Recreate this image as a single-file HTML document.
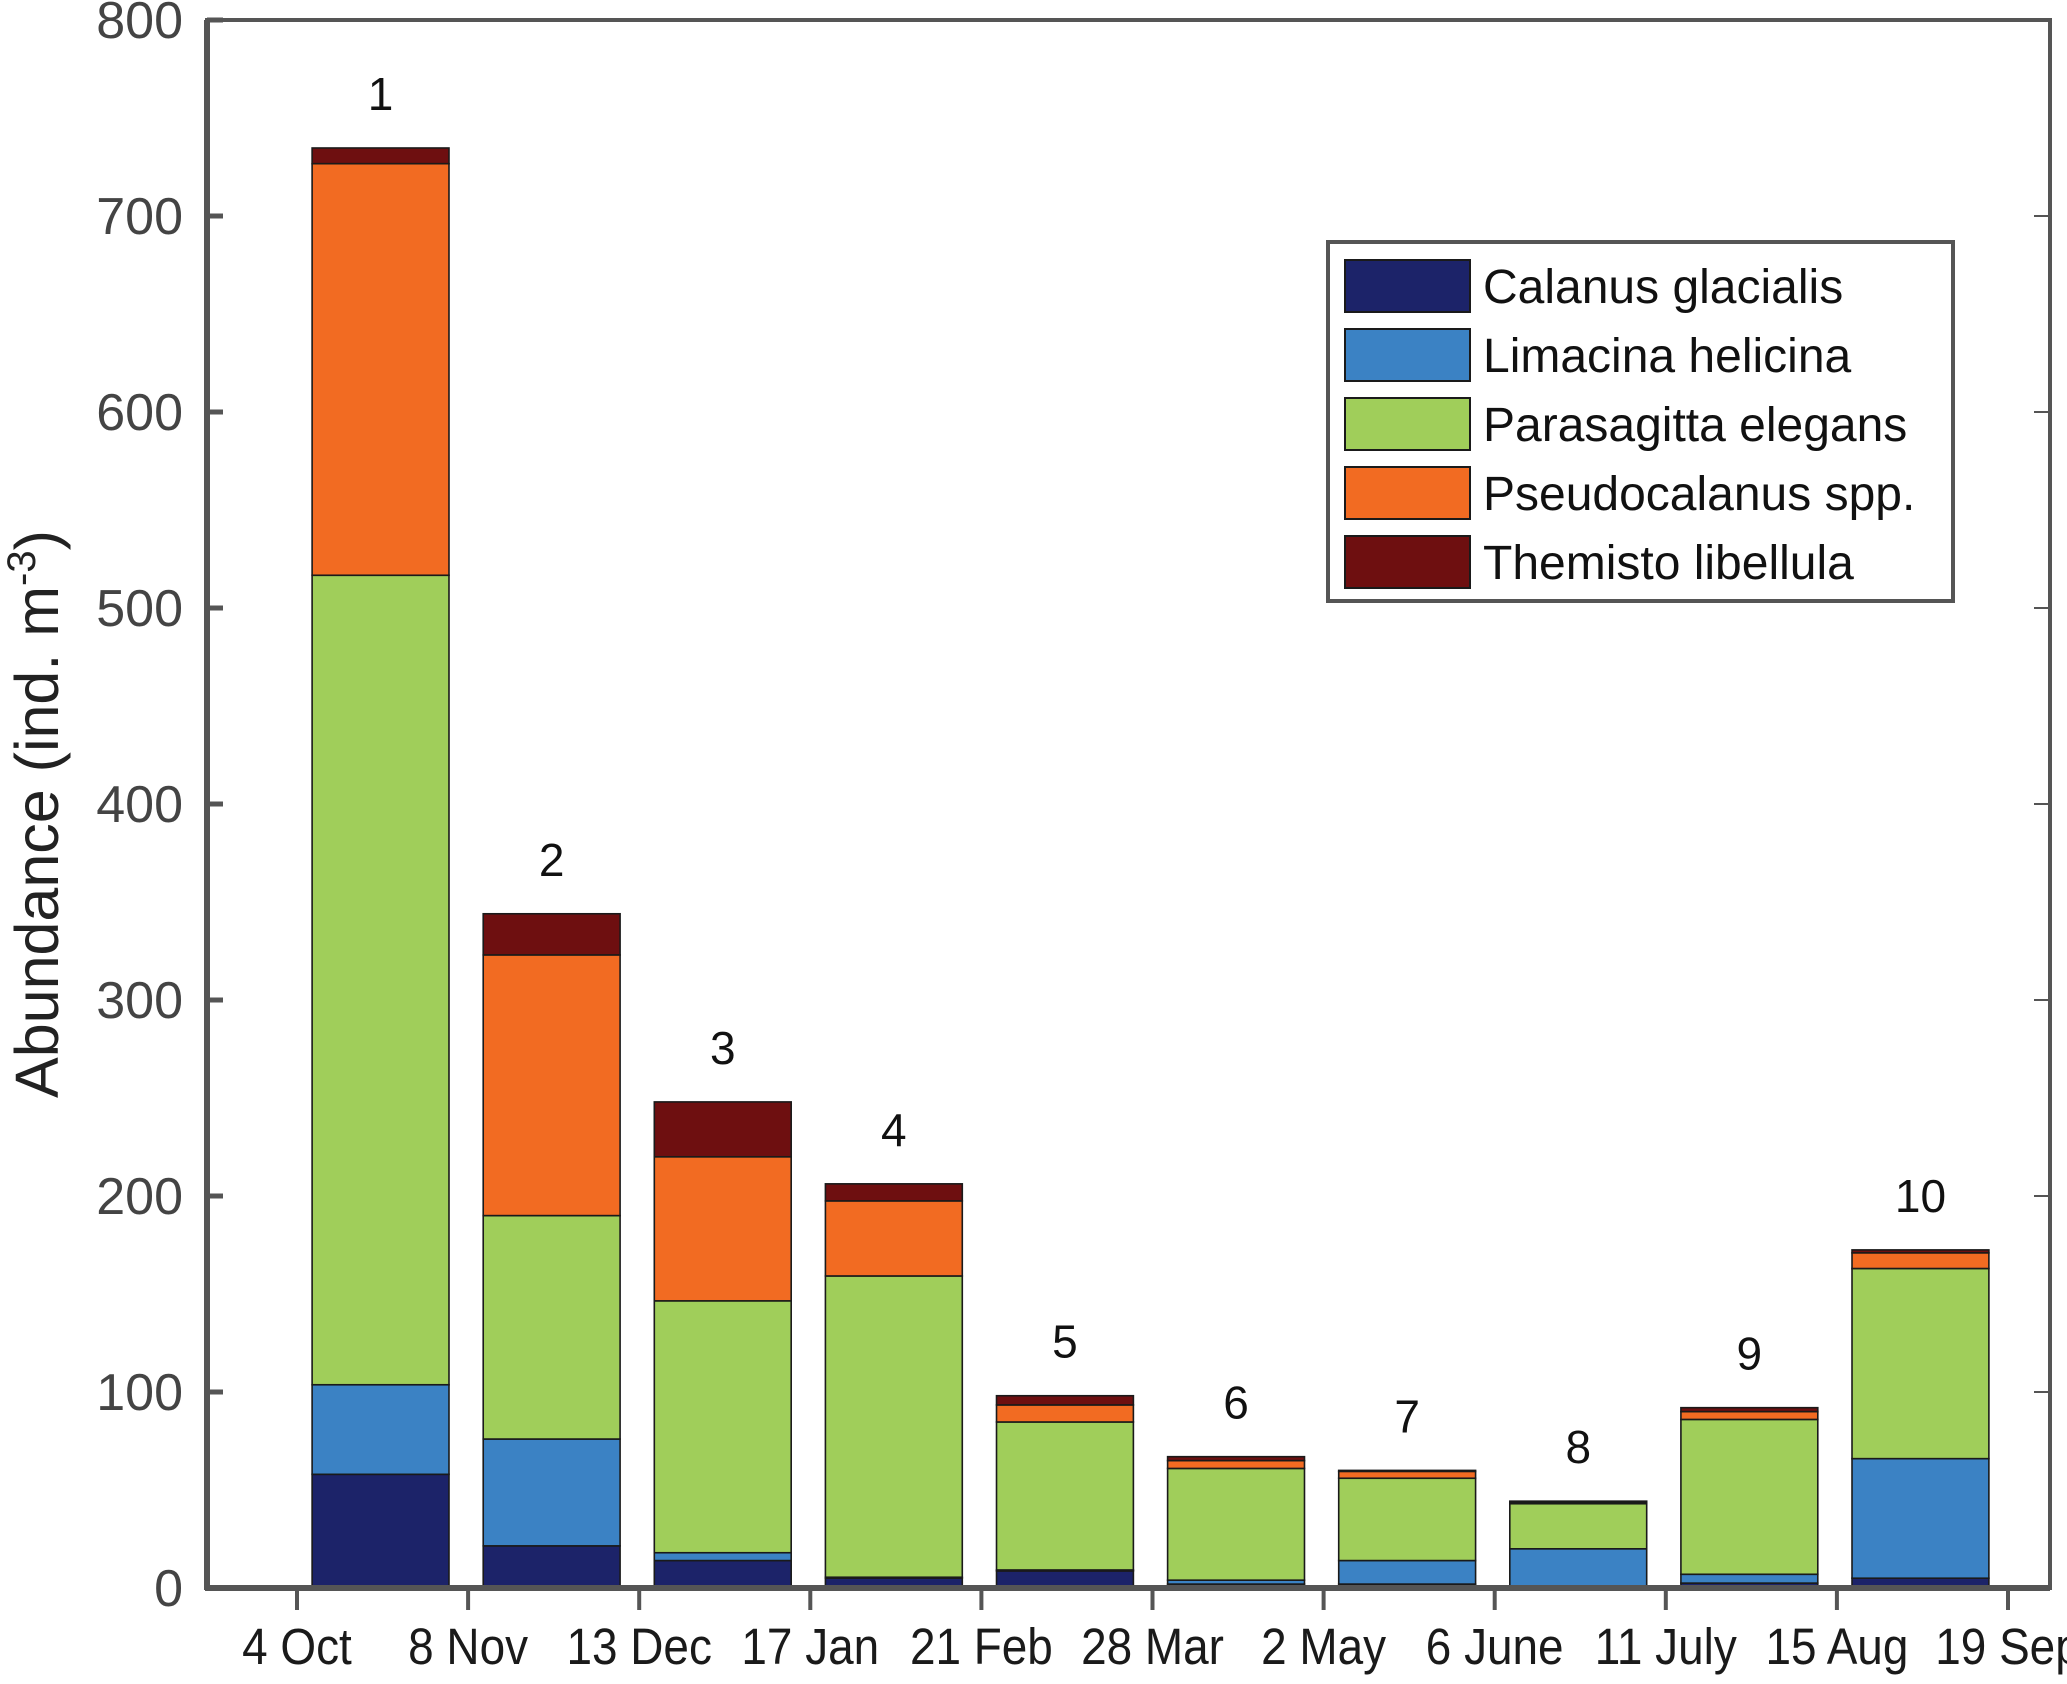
<!DOCTYPE html>
<html><head><meta charset="utf-8"><style>
html,body{margin:0;padding:0;background:#fff}
svg{display:block}
text{font-family:"Liberation Sans",sans-serif}
</style></head><body>
<svg id="chart" width="2067" height="1684" viewBox="0 0 2067 1684" xmlns="http://www.w3.org/2000/svg">
<g id="plot"></g>
</svg>
<script>
const categories = ["1","2","3","4","5","6","7","8","9","10"];
const xTickLabels = ["4 Oct","8 Nov","13 Dec","17 Jan","21 Feb","28 Mar","2 May","6 June","11 July","15 Aug","19 Sep"];
const yTicks = [0,100,200,300,400,500,600,700,800];
const seriesNames = ["Calanus glacialis","Limacina helicina","Parasagitta elegans","Pseudocalanus spp.","Themisto libellula"];
const calanus = [58,21.5,14,5,8.7,2,2,0.5,2.5,5];
const limacina = [45.7,54.5,4,0.5,0.5,2,12,19.5,4.5,61];
const parasagitta = [413,114,128.5,153.7,75.5,57,42,23,79,97];
const pseudocalanus = [210,133,73.5,38.3,8.7,4,3.5,0.5,4,8];
const themisto = [8,21,28,8.7,4.7,2,0.5,0.8,2,1.5];
const colors = ["#1c2369","#3b82c4","#a0ce5a","#f26b22","#6e0f10"];
const series = [calanus,limacina,parasagitta,pseudocalanus,themisto];

const NS="http://www.w3.org/2000/svg";
const L=207,R=2050,T=20,B=1588;
const yMax=800;
const y=v=>B-(v/yMax)*(B-T);
const tick0=297,tickStep=171.1;
const xTick=i=>tick0+i*tickStep;
const xCenter=i=>tick0+(i+0.5)*tickStep;
const barW=tickStep*0.8;
const g=document.getElementById('plot');
function mk(tag,attrs,parent){const e=document.createElementNS(NS,tag);for(const k in attrs)e.setAttribute(k,attrs[k]);(parent||g).appendChild(e);return e;}

categories.forEach((c,i)=>{
  let base=0;
  series.forEach((s,k)=>{
    const v=s[i];
    const r=mk('rect',{x:xCenter(i)-barW/2-2,y:y(base+v),width:barW,height:y(base)-y(base+v),fill:colors[k],stroke:'#1a1a1a','stroke-width':1.6});
    
    
    base+=v;
  });
  const t=mk('text',{x:xCenter(i)-2,y:y(base)-38,'font-size':46,'text-anchor':'middle',fill:'#111'});
  t.textContent=c;
  
  
});

const box=mk('rect',{x:L,y:T,width:R-L,height:B-T,fill:'none',stroke:'#555','stroke-width':4});


mk('line',{x1:L,x2:L,y1:T,y2:B+2,stroke:'#555','stroke-width':6});
mk('line',{x1:L-2,x2:R,y1:B,y2:B,stroke:'#555','stroke-width':6});

yTicks.forEach(v=>{
  mk('line',{x1:L,x2:L+16,y1:y(v),y2:y(v),stroke:'#555','stroke-width':5});
  mk('line',{x1:R,x2:R-16,y1:y(v),y2:y(v),stroke:'#555','stroke-width':2});
  const t=mk('text',{x:L-24,y:y(v)+18,'font-size':52,'text-anchor':'end',fill:'#444'});
  t.textContent=v;
  
  
});
xTickLabels.forEach((lab,i)=>{
  mk('line',{x1:xTick(i),x2:xTick(i),y1:B,y2:B+22,stroke:'#555','stroke-width':4});
  const t=mk('text',{x:xTick(i),y:B+76,'font-size':51,'text-anchor':'middle',fill:'#1a1a1a',transform:`translate(${xTick(i)},0) scale(0.9,1) translate(${-xTick(i)},0)`});
  t.textContent=lab;
  
  
});
const yt=mk('text',{x:0,y:0,'font-size':61,'text-anchor':'middle',fill:'#222',transform:'translate(58,814) rotate(-90)'});


yt.innerHTML='Abundance (ind. m<tspan dy="-23" font-size="40">-3</tspan><tspan dy="23">)</tspan>';

const lg=mk('g',{});


mk('rect',{x:1328,y:242,width:625,height:359,fill:'#fff',stroke:'#555','stroke-width':4},lg);
seriesNames.forEach((n,k)=>{
  const cy=286+k*69;
  const sw=mk('rect',{x:1345,y:cy-26,width:125,height:52,fill:colors[k],stroke:'#1a1a1a','stroke-width':2},lg);
  
  
  const t=mk('text',{x:1483,y:cy+17,'font-size':48,fill:'#111'},lg);
  t.textContent=n;
  
  
});
</script>
</body></html>
